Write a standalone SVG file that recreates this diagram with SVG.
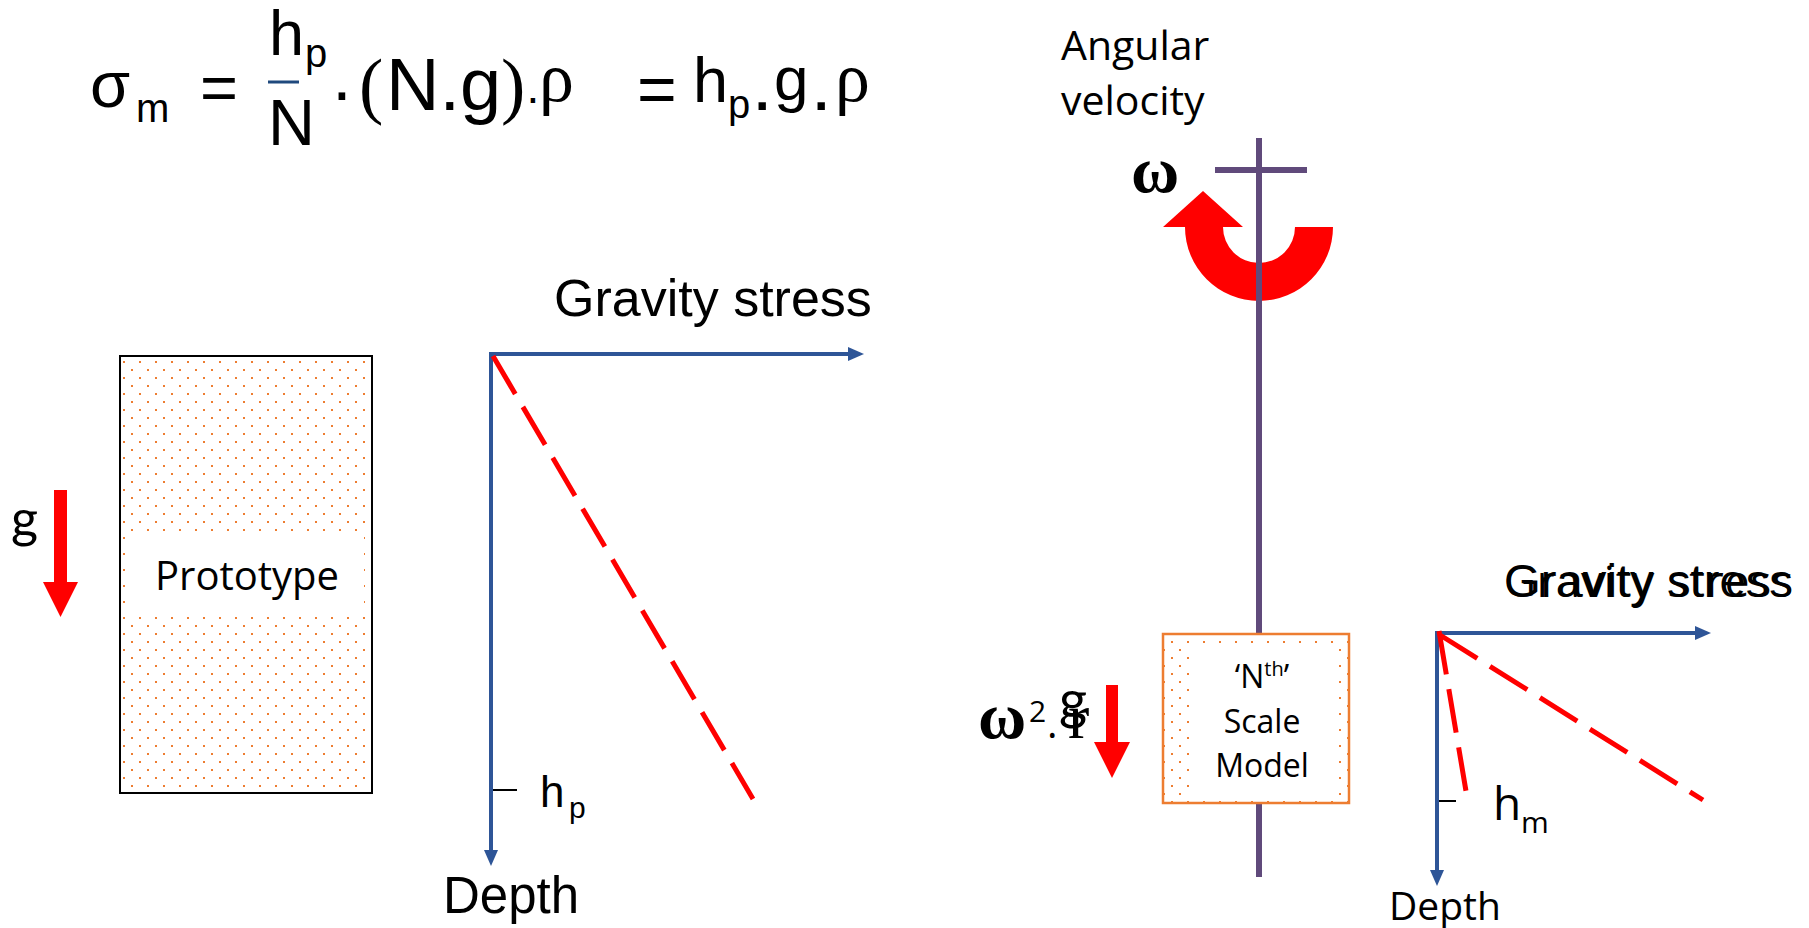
<svg xmlns="http://www.w3.org/2000/svg" width="1809" height="928" viewBox="0 0 1809 928">
<style>
.ar{font-family:"Liberation Sans",Arial,sans-serif;fill:#000}
.se{font-family:"Liberation Serif","Times New Roman",serif;fill:#000}
.om{font-family:"Liberation Serif","Times New Roman",serif;font-weight:bold;fill:#000}
.ca{font-family:"Open Sans","Noto Sans",sans-serif;fill:#000}
.gg{font-family:Lato,"Noto Sans",sans-serif;fill:#000}
.axis{stroke:#2E5597;stroke-width:4;fill:none}
.dash{stroke:#FF0000;stroke-width:5;fill:none;stroke-dasharray:44 15}
.red{fill:#FF0000}
.purple{stroke:#604A7B;stroke-width:6;fill:none}
</style>
<defs>
<pattern id="dots" x="0" y="0" width="16" height="16" patternUnits="userSpaceOnUse">
<rect x="11" y="9" width="2" height="2" fill="#ED7D31"/>
<rect x="3" y="1" width="2" height="2" fill="#ED7D31"/>
</pattern>
<marker id="ah" viewBox="0 0 16 14" refX="0" refY="7" markerWidth="16" markerHeight="14" markerUnits="userSpaceOnUse" orient="auto">
<path d="M0,0 L16,7 L0,14 z" fill="#2E5597"/>
</marker>
</defs>
<rect width="1809" height="928" fill="#fff"/>

<g id="formula">
<text class="ar" x="90" y="107" font-size="65">σ</text>
<text class="ar" x="136" y="122" font-size="40">m</text>
<text class="ar" x="200" y="110" font-size="65">=</text>
<text class="ar" x="269" y="55" font-size="63">h</text>
<text class="ar" x="305" y="67" font-size="40">p</text>
<line x1="268" y1="82" x2="299" y2="82" stroke="#1F497D" stroke-width="3"/>
<text class="ar" x="268" y="145" font-size="65">N</text>
<text class="ar" x="342" y="115" font-size="70" text-anchor="middle">·</text>
<text class="se" x="359" y="110" font-size="73">(</text>
<text class="ar" x="386" y="110" font-size="74">N.g</text>
<text class="se" x="501" y="110" font-size="73">)</text>
<text class="ar" x="533" y="113" font-size="46" text-anchor="middle">·</text>
<text class="se" x="539" y="101" font-size="70">ρ</text>
<text class="ar" x="637" y="113" font-size="68">=</text>
<text class="ar" x="693" y="102" font-size="63">h</text>
<text class="ar" x="728" y="118" font-size="40">p</text>
<text class="ar" x="755" y="110" font-size="52" font-weight="bold">.</text>
<text class="ar" x="774" y="100" font-size="62">g</text>
<text class="ar" x="814" y="110" font-size="52" font-weight="bold">.</text>
<text class="se" x="835" y="101" font-size="70">ρ</text>
</g>

<g id="angular-velocity-label">
<text class="ca" x="1061" y="60" font-size="41">Angular</text>
<text class="ca" x="1061" y="115" font-size="41">velocity</text>
</g>
<g id="omega-label">
<text class="om" x="1131" y="192" font-size="66">ω</text>
</g>

<g id="rotation-arrow">
<path class="red" d="M1333,227 A74,74 0 0 1 1185,227 L1163,227 L1203,191 L1243,227 L1223,227 A36,36 0 0 0 1295,227 Z"/>
</g>

<g id="shaft">
<line class="purple" x1="1259" y1="138" x2="1259" y2="877"/>
<line class="purple" x1="1215" y1="170" x2="1307" y2="170"/>
</g>

<g id="prototype">
<rect x="120" y="356" width="252" height="437" fill="#fff"/>
<rect x="120" y="356" width="252" height="437" fill="url(#dots)"/>
<rect x="125" y="534" width="239" height="82" fill="#fff"/>
<rect x="120" y="356" width="252" height="437" fill="none" stroke="#000" stroke-width="2"/>
<text class="ca" x="247" y="590" font-size="40" text-anchor="middle">Prototype</text>
</g>

<g id="gravity-left">
<text class="gg" x="11" y="537" font-size="52">g</text>
<polygon class="red" points="54,490 67,490 67,582 78,582 60.5,617 43,582 54,582"/>
</g>

<g id="model">
<rect x="1163" y="634" width="186" height="169" fill="#fff"/>
<rect x="1163" y="634" width="186" height="169" fill="url(#dots)"/>
<rect x="1192" y="647" width="144" height="149" fill="#fff"/>
<rect x="1163" y="634" width="186" height="169" fill="none" stroke="#ED7D31" stroke-width="2.5"/>
<text class="ca" x="1262" y="688" font-size="32" text-anchor="middle">‘N<tspan font-size="20" dy="-12">th</tspan><tspan dy="12">’</tspan></text>
<text class="ca" x="1262" y="733" font-size="32" text-anchor="middle">Scale</text>
<text class="ca" x="1262" y="777" font-size="32" text-anchor="middle">Model</text>
</g>

<g id="centrifugal-label">
<text class="om" x="978" y="738" font-size="66">ω</text>
<text class="ca" x="1029" y="722" font-size="30">2</text>
<text class="ca" x="1047" y="738" font-size="40">.</text>
<text class="se" x="1068" y="738" font-size="64">r</text>
<text class="gg" x="1059" y="719" font-size="54">g</text>
<polygon class="red" points="1106,685 1118,685 1118,742 1130,742 1112,778 1094,742 1106,742"/>
</g>

<g id="chart-left-labels">
<text class="ar" x="554" y="316" font-size="52">Gravity stress</text>
<line x1="493" y1="790" x2="517" y2="790" stroke="#000" stroke-width="2"/>
<text class="ar" x="540" y="807" font-size="44">h</text>
<text class="ar" x="569" y="818" font-size="30">p</text>
<text class="ar" x="443" y="913" font-size="51">Depth</text>
</g>

<g id="chart-right-labels">
<text class="ar" x="1504" y="597" font-size="47" textLength="289" lengthAdjust="spacingAndGlyphs">Gravity stress</text>
<text class="ca" x="1504" y="597" font-size="44" textLength="289" lengthAdjust="spacing">Gravity stress</text>
<line x1="1438" y1="801" x2="1456" y2="801" stroke="#000" stroke-width="2"/>
<text class="ca" x="1493" y="820" font-size="46">h</text>
<text class="ca" x="1521" y="833" font-size="30">m</text>
<text class="ca" x="1389" y="920" font-size="39">Depth</text>
</g>

<g id="connectors">
<line class="axis" x1="491" y1="354" x2="848" y2="354" marker-end="url(#ah)"/>
<line class="axis" x1="491" y1="352" x2="491" y2="850" marker-end="url(#ah)"/>
<line class="dash" x1="493" y1="356" x2="753" y2="799"/>
<line class="axis" x1="1437" y1="633" x2="1695" y2="633" marker-end="url(#ah)"/>
<line class="axis" x1="1437" y1="631" x2="1437" y2="870" marker-end="url(#ah)"/>
<line class="dash" x1="1439" y1="631" x2="1467" y2="797"/>
<line class="dash" x1="1440" y1="635" x2="1703" y2="800"/>
</g>
</svg>
